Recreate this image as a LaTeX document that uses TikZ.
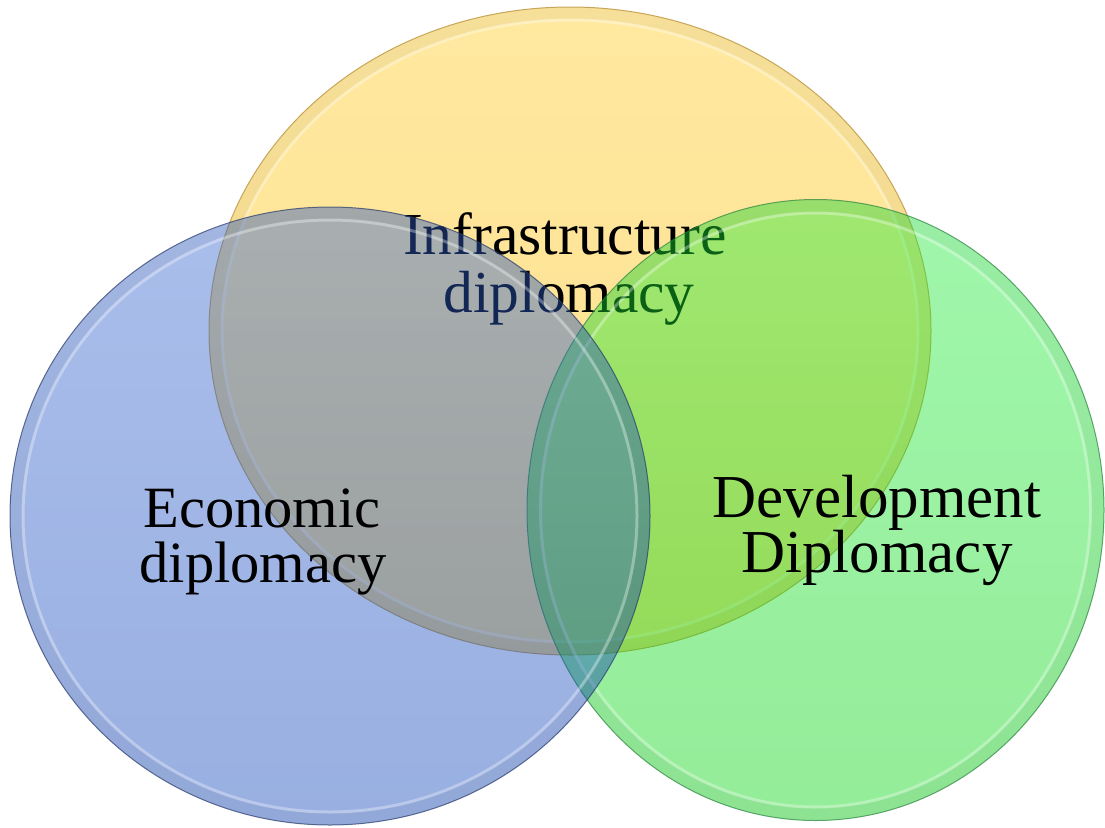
\documentclass[tikz,border=0pt]{standalone}
\usepackage{fontspec}
\setmainfont{Liberation Serif}
\usetikzlibrary{shapes.geometric}
\definecolor{yelTop}{RGB}{255,233,160}
\definecolor{yelBot}{RGB}{252,222,140}
\definecolor{yelLine}{RGB}{205,170,90}
\definecolor{bluTop}{RGB}{52,100,207}
\definecolor{bluBot}{RGB}{10,64,183}
\definecolor{bluLine}{RGB}{40,60,110}
\definecolor{grnTop}{RGB}{29,236,57}
\definecolor{grnBot}{RGB}{0,210,10}
\definecolor{grnLine}{RGB}{40,130,60}
\begin{document}
\begin{tikzpicture}[x=1pt,y=-1pt,
  disc/.style={ellipse,inner sep=0pt,outer sep=0pt,line width=1pt},
  rim/.style={draw=white,line width=3pt,draw opacity=0.33},
  band/.style={draw=black,line width=12pt,draw opacity=0.04},
  lbl/.style={anchor=base,inner sep=0pt,text=black},
  sz/.style={font=\fontsize{#1}{#1}\selectfont}]
\useasboundingbox (0,0) rectangle (1105,827);

% top circle: infrastructure
\node[disc,minimum width=722pt,minimum height=648pt,
      top color=yelTop,bottom color=yelBot,draw=yelLine] (infra) at (570,331) {};
\draw[band] (infra.center) ellipse [x radius=355,y radius=318];
\draw[rim] (infra.center) ellipse [x radius=348,y radius=311];
\node[lbl,sz=59.5] (infraA) at (565,254) {Infrastructure};
\node[lbl,sz=59.5] (infraB) at (569,312) {diplomacy};

% right circle: development
\node[disc,minimum width=577pt,minimum height=621pt,
      top color=grnTop,bottom color=grnBot,fill opacity=0.42,
      draw=grnLine,draw opacity=0.7] (devel) at (815.5,510) {};
\draw[band] (devel.center) ellipse [x radius=282,y radius=304];
\draw[rim] (devel.center) ellipse [x radius=275,y radius=297];
\node[lbl,sz=61] (develA) at (877,517) {Development};
\node[lbl,sz=61] (develB) at (877,572) {Diplomacy};

% left circle: economic
\node[disc,minimum width=640pt,minimum height=618pt,
      top color=bluTop,bottom color=bluBot,fill opacity=0.42,
      draw=bluLine,draw opacity=0.7] (econ) at (330,516) {};
\draw[band] (econ.center) ellipse [x radius=314,y radius=303];
\draw[rim] (econ.center) ellipse [x radius=307,y radius=296];
\node[lbl,sz=58.5] (econA) at (262,527) {Economic};
\node[lbl,sz=58.5] (econB) at (263,582) {diplomacy};
\end{tikzpicture}
\end{document}
